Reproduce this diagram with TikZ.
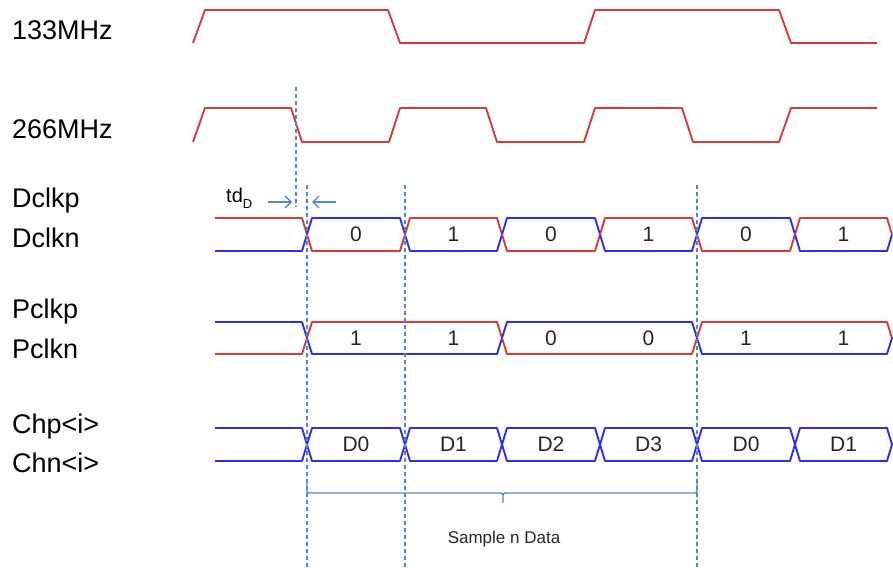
\documentclass[tikz,border=0pt]{standalone}
\usepackage{fontspec}
\setmainfont{Liberation Sans}
\usetikzlibrary{arrows.meta}
\definecolor{wavered}{RGB}{214,58,58}
\definecolor{waveblue}{RGB}{45,45,245}
\definecolor{guideblue}{RGB}{85,135,200}
\begin{document}
\begin{tikzpicture}[
  x=1pt, y=-1pt,
  >={Straight Barb[length=6pt, width=12pt]},
  wave/.style={line width=1.9pt, line join=round},
  siglabel/.style={anchor=base west, inner sep=0pt, font=\fontsize{27}{30}\selectfont},
  bitlabel/.style={inner sep=0pt, text=black!85, font=\fontsize{21}{24}\selectfont},
  guide/.style={draw=guideblue, line width=1.5pt, dash pattern=on 4pt off 3pt},
  marker/.style={draw=guideblue, line width=1.4pt}
]
\useasboundingbox (0,0) rectangle (893,567);

% Signal names
\node[siglabel] (l133) at (12,40) {133MHz};
\node[siglabel] (l266) at (12,138) {266MHz};
\node[siglabel] (ldclkp) at (12,207) {Dclkp};
\node[siglabel] (ldclkn) at (12,247) {Dclkn};
\node[siglabel] (lpclkp) at (12,318) {Pclkp};
\node[siglabel] (lpclkn) at (12,358) {Pclkn};
\node[siglabel] (lchp) at (12,433) {Chp<i>};
\node[siglabel] (lchn) at (12,472) {Chn<i>};

% Clocks
\draw[wave, wavered] (193,43) -- (205,10) -- (388,10) -- (400,43) -- (584,43) -- (595,10)
  -- (779,10) -- (791,43) -- (877,43);
\draw[wave, wavered] (193,142) -- (205,108) -- (291,108) -- (302,142) -- (389,142) -- (400,108)
  -- (486,108) -- (497,142) -- (584,142) -- (595,108) -- (682,108) -- (693,142) -- (779,142)
  -- (791,108) -- (877,108);

% Dclkp / Dclkn
\draw[wave, wavered] (215,218) -- (302,218) -- (307,234.5);
\draw[wave, waveblue] (215,251) -- (302,251) -- (307,234.5);
\foreach \xa/\xb/\ct/\cb/\v in {307/405/waveblue/wavered/0, 405/502/wavered/waveblue/1,
    502/600/waveblue/wavered/0, 600/697/wavered/waveblue/1, 697/795/waveblue/wavered/0,
    795/892/wavered/waveblue/1} {
  \draw[wave, \ct] (\xa,234.5) -- (\xa+5,218) -- (\xb-5,218) -- (\xb,234.5);
  \draw[wave, \cb] (\xa,234.5) -- (\xa+5,251) -- (\xb-5,251) -- (\xb,234.5);
  \node[bitlabel] (dbit\xa) at ({(\xa+\xb)/2},234.5) {\v};
}

% Pclkp / Pclkn
\draw[wave, waveblue] (215,322) -- (302,322) -- (307,338);
\draw[wave, wavered] (215,354) -- (302,354) -- (307,338);
\foreach \xa/\xb/\ct/\cb in {307/502/wavered/waveblue, 502/697/waveblue/wavered,
    697/892/wavered/waveblue} {
  \draw[wave, \ct] (\xa,338) -- (\xa+5,322) -- (\xb-5,322) -- (\xb,338);
  \draw[wave, \cb] (\xa,338) -- (\xa+5,354) -- (\xb-5,354) -- (\xb,338);
}
\foreach \xa/\xb/\v in {307/405/1, 405/502/1, 502/600/0, 600/697/0, 697/795/1, 795/892/1}
  \node[bitlabel] (pbit\xa) at ({(\xa+\xb)/2},338) {\v};

% Chp<i> / Chn<i>
\draw[wave, waveblue] (215,428) -- (302,428) -- (307,444.5) -- (302,461) -- (215,461);
\foreach \xa/\xb/\v in {307/405/D0, 405/502/D1, 502/600/D2, 600/697/D3, 697/795/D0, 795/892/D1} {
  \draw[wave, waveblue] (\xa,444.5) -- (\xa+5,428) -- (\xb-5,428) -- (\xb,444.5)
    -- (\xb-5,461) -- (\xa+5,461) -- cycle;
  \node[bitlabel] (cbit\xa) at ({(\xa+\xb)/2},444.5) {\v};
}

% Timing guides
\draw[guide] (296,87) -- (296,207);
\draw[guide] (307,185) -- (307,567);
\draw[guide] (405,185) -- (405,567);
\draw[guide] (697,185) -- (697,567);

% Delay tdD
\node[anchor=base west, inner sep=0pt, font=\fontsize{20}{22}\selectfont] (tdd) at (226,202)
  {td\raisebox{-0.3em}{\fontsize{13}{14}\selectfont D}};
\coordinate (tdleft) at (292,202);
\coordinate (tdright) at (312,202);
\draw[marker, ->] (268,202) -- (tdleft);
\draw[marker, ->] (336,202) -- (tdright);

% Sample window
\draw[marker, rounded corners=2pt] (307,483) |- (503,493) -- (503,504) -- (503,493) -| (697,483);
\node[inner sep=0pt, text=black!85, font=\fontsize{17}{19}\selectfont] (sample) at (504,539)
  {Sample n Data};

\end{tikzpicture}
\end{document}
